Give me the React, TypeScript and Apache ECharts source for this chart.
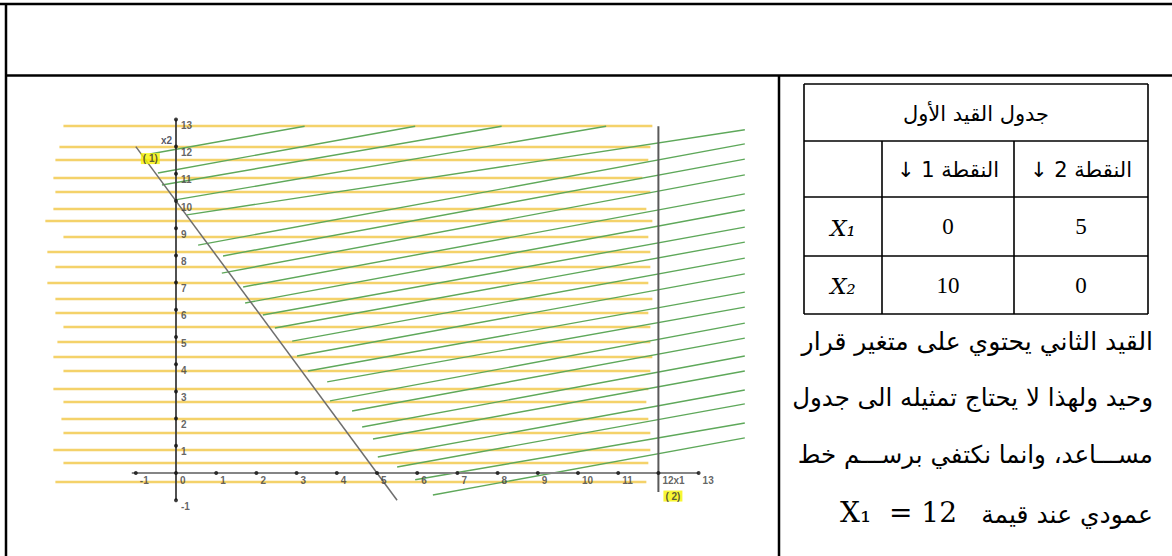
import React, { useEffect, useRef } from "react";
import * as echarts from "echarts";

// ---------- data ----------
const xTickValues = [-1, 0, 1, 2, 3, 4, 5, 6, 7, 8, 9, 10, 11, 12, 13];
const xTickLabels = ["-1", "0", "1", "2", "3", "4", "5", "6", "7", "8", "9", "10", "11", "12x1", "13"];
const yTickValues = [-1, 1, 2, 3, 4, 5, 6, 7, 8, 9, 10, 11, 12, 13];
const yTickLabels = ["-1", "1", "2", "3", "4", "5", "6", "7", "8", "9", "10", "11", "12", "13"];

// constraint (1): through (0,10) and (5,0)
const constraint1 = [[-1, 12], [5.5, -1]];
// constraint (2): x1 = 12
const constraint2 = [[12, 12.75], [12, -0.7]];

// yellow hatching (horizontal) lines
const yellowY = [12.75, 12.0, 11.5, 10.85, 10.33, 9.7, 9.26, 8.7, 8.15, 7.57, 6.98, 6.42, 5.9, 5.37, 4.82, 4.26, 3.75, 3.09, 2.61, 1.98, 1.47, 0.85, 0.37, -0.33];
const yellowStartX = [-2.8, -2.9, -3.0, -3.05, -3.0, -3.05, -3.25, -2.8, -3.2, -3.0, -3.2, -3.0, -3.0, -2.8, -2.95, -3.05, -2.8, -3.05, -2.8, -2.85, -2.8, -3.05, -2.8, -3.0];
const yellowEndX = [11.85, 11.8, 11.75, 11.6, 11.8, 11.7, 11.85, 11.75, 11.8, 11.8, 11.75, 11.85, 11.75, 11.8, 11.8, 11.85, 11.8, 11.75, 11.7, 11.75, 11.8, 11.8, 11.75, 11.7];

// green hatching (slanted) lines
const greenStart = [
  [-0.65, 11.73], [-0.45, 11.03], [-0.35, 10.59], [-0.02, 10.04], [0.27, 9.49], [0.55, 8.38],
  [1.17, 7.98], [1.14, 7.35], [1.67, 6.84], [1.72, 6.25], [2.16, 5.81], [2.46, 5.33],
  [2.89, 4.85], [3.01, 4.3], [3.28, 3.75], [3.76, 3.35], [3.83, 2.65], [4.38, 2.28],
  [4.63, 1.69], [4.9, 1.25], [5.02, 0.59], [5.5, 0.22], [5.95, -0.25], [6.39, -0.81],
];
const greenEnd = [
  [3.2, 12.75], [5.95, 12.75], [8.1, 12.75], [10.7, 12.75], [14.15, 12.62], [14.15, 12.1],
  [14.15, 11.54], [14.15, 10.96], [14.15, 10.26], [14.15, 9.67], [14.15, 9.04], [14.15, 8.49],
  [14.15, 7.9], [14.15, 7.32], [14.15, 6.65], [14.15, 6.1], [14.15, 5.51], [14.15, 4.96],
  [14.15, 4.3], [14.15, 3.75], [14.15, 3.05], [14.15, 2.54], [14.15, 1.84], [14.15, 1.29],
];

// right-hand table
const tableTitle = "جدول القيد الأول";
const pointHeaders = ["\u200Fالنقطة 1 ↓\u200F", "\u200Fالنقطة 2 ↓\u200F"];
const rowNames = ["X₁", "X₂"];
const point1Values = ["0", "10"];
const point2Values = ["5", "0"];
const paragraphLines = [
  "القيد الثاني يحتوي على متغير قرار",
  "وحيد ولهذا لا يحتاج تمثيله الى جدول",
  "مســـاعد، وانما نكتفي برســـم خط",
  "عمودي عند قيمة",
];
const equationText = "X₁  = 12";

// ---------- styles ----------
const AR_FONT = "DejaVu Sans";
const SERIF = "'Liberation Serif', 'DejaVu Serif', serif";
const MATH = "'DejaVu Serif', serif";

function buildOption() {
  const frame = "#000";
  const graphics: any[] = [];
  const line = (x1: number, y1: number, x2: number, y2: number, w: number) =>
    graphics.push({ type: "line", shape: { x1, y1, x2, y2 }, style: { stroke: frame, lineWidth: w }, z: 10 });

  // outer document frame
  line(0, 4, 1172, 4, 2.5);
  line(6, 3, 6, 556, 2.5);
  line(5, 75.5, 1172, 75.5, 2.5);
  line(779, 75.5, 779, 556, 2.5);

  // inner table
  const tL = 804, tR = 1148, tT = 84, rows = [141, 197, 256, 314], c1 = 882, c2 = 1014;
  line(tL, tT, tR, tT, 1.6);
  line(tL, tT, tL, rows[3], 1.6);
  line(tR, tT, tR, rows[3], 1.6);
  rows.forEach((r) => line(tL, r, tR, r, 1.6));
  line(c1, rows[0], c1, rows[3], 1.6);
  line(c2, rows[0], c2, rows[3], 1.6);

  const txt = (text: string, x: number, y: number, o: any = {}) =>
    graphics.push({
      type: "text",
      x,
      y,
      z: 11,
      style: {
        text,
        fill: "#000",
        fontSize: o.fontSize ?? 18,
        fontFamily: o.fontFamily ?? AR_FONT,
        fontStyle: o.fontStyle ?? "normal",
        align: o.align ?? "center",
        verticalAlign: "middle",
      },
    });

  txt(tableTitle, (tL + tR) / 2, 114, { fontSize: 21 });
  txt(pointHeaders[0], (c1 + c2) / 2, 170, { fontSize: 21 });
  txt(pointHeaders[1], (c2 + tR) / 2, 170, { fontSize: 21 });
  const rowMid = [(rows[1] + rows[2]) / 2, (rows[2] + rows[3]) / 2];
  rowNames.forEach((n, i) => {
    txt(n, (tL + c1) / 2, rowMid[i] + 1, { fontSize: 23, fontFamily: MATH, fontStyle: "italic" });
    txt(point1Values[i], (c1 + c2) / 2, rowMid[i], { fontSize: 23, fontFamily: SERIF });
    txt(point2Values[i], (c2 + tR) / 2, rowMid[i], { fontSize: 23, fontFamily: SERIF });
  });

  const paraY = [341, 397, 454, 514];
  const paraSize = [25, 24.5, 24.5, 25];
  paragraphLines.forEach((t, i) => txt(t, 1153, paraY[i], { fontSize: paraSize[i], align: "right" }));
  txt(equationText, 840, 512, { fontSize: 28, fontFamily: MATH, align: "left" });

  // ---------- chart series ----------
  const yellowData = yellowY.map((y, i) => ({ coords: [[yellowStartX[i], y], [yellowEndX[i], y]] }));
  const greenData = greenStart.map((s, i) => ({ coords: [s, greenEnd[i]] }));

  const labelBase = {
    show: true,
    fontSize: 10,
    fontWeight: "bold" as const,
    fontFamily: "Liberation Sans, Arial, sans-serif",
    color: "#3c3c3c",
  };

  return {
    animation: false,
    backgroundColor: "#fff",
    grid: { left: 15.2, top: 92.2, width: 763.8, height: 462.4, show: false },
    xAxis: { type: "value", min: -4, max: 15, show: false },
    yAxis: { type: "value", min: -3, max: 14, show: false },
    graphic: graphics,
    series: [
      {
        type: "lines",
        coordinateSystem: "cartesian2d",
        silent: true,
        z: 1,
        lineStyle: { color: "#f3cd5a", width: 2.4, opacity: 0.9 },
        data: yellowData,
      },
      {
        type: "lines",
        coordinateSystem: "cartesian2d",
        silent: true,
        z: 2,
        lineStyle: { color: "#5ea85a", width: 1.4, opacity: 1 },
        data: greenData,
      },
      {
        type: "line",
        z: 3,
        silent: true,
        showSymbol: false,
        data: [[xTickValues[0] - 0.1, 0], [xTickValues[xTickValues.length - 1], 0]],
        lineStyle: { color: "#858585", width: 2.2 },
      },
      {
        type: "line",
        z: 3,
        silent: true,
        showSymbol: false,
        data: [[0, yTickValues[0]], [0, yTickValues[yTickValues.length - 1]]],
        lineStyle: { color: "#3e3e3e", width: 1.8 },
      },
      {
        type: "line",
        z: 4,
        silent: true,
        showSymbol: false,
        data: constraint1,
        lineStyle: { color: "#6e6e6e", width: 1.5 },
      },
      {
        type: "line",
        z: 4,
        silent: true,
        showSymbol: false,
        data: constraint2,
        lineStyle: { color: "#5a5a5a", width: 2 },
      },
      {
        type: "scatter",
        z: 5,
        silent: true,
        symbolSize: 4,
        itemStyle: { color: "#111" },
        data: xTickValues.map((v, i) => ({ name: xTickLabels[i], value: [v, 0] })),
        label: { ...labelBase, position: "right", distance: 0, offset: [2, 7], formatter: "{b}" },
      },
      {
        type: "scatter",
        z: 5,
        silent: true,
        symbolSize: 4,
        itemStyle: { color: "#111" },
        data: yTickValues.map((v, i) => ({ name: yTickLabels[i], value: [0, v] })),
        label: { ...labelBase, position: "right", distance: 0, offset: [3, 6], formatter: "{b}" },
      },
      {
        type: "scatter",
        z: 6,
        silent: true,
        symbolSize: 0,
        data: [{ name: "x2", value: [0, yTickValues[yTickValues.length - 1]] }],
        label: { ...labelBase, position: "left", distance: 0, offset: [-4, 21], formatter: "{b}", color: "#2a2a3a" },
      },
      {
        type: "scatter",
        z: 6,
        silent: true,
        symbolSize: 0,
        data: [
          { name: "( 1)", value: constraint1[0], label: { offset: [5, 12] } },
          { name: "( 2)", value: constraint2[1], label: { offset: [5, 4] } },
        ],
        label: {
          ...labelBase,
          position: "right",
          distance: 0,
          formatter: "{b}",
          color: "#333",
          backgroundColor: "#f6f400",
          padding: [1, 2, 0, 2],
        },
      },
    ],
  };
}

export default function App() {
  const ref = useRef<HTMLDivElement>(null);
  useEffect(() => {
    if (!ref.current) return;
    const chart = echarts.init(ref.current, null, { renderer: "svg" });
    chart.setOption(buildOption() as any);
    return () => chart.dispose();
  }, []);
  return (
    <div
      ref={ref}
      style={{ position: "fixed", left: 0, top: 0, width: 1172, height: 556, background: "#fff" }}
    />
  );
}
